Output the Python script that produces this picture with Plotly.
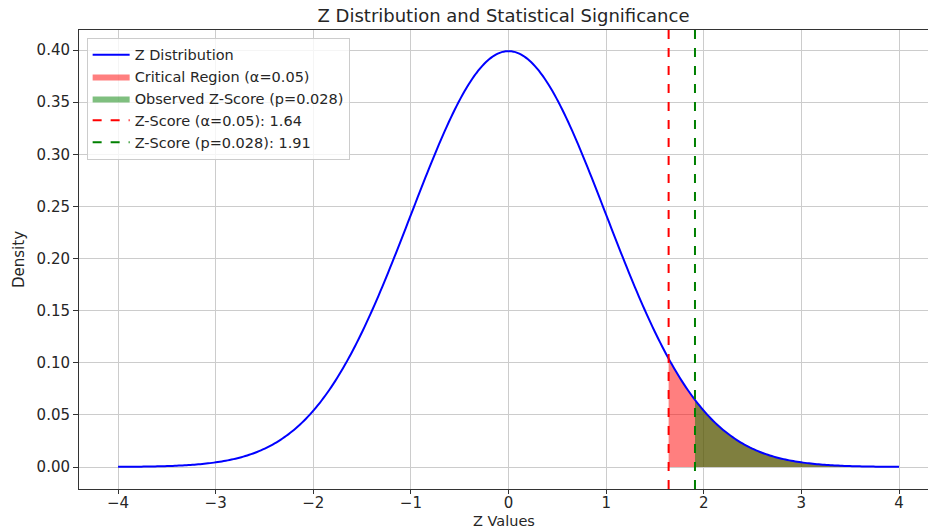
import math
import plotly.graph_objects as go

# Parameters
z_min, z_max = -4.0, 4.0
alpha = 0.05
z_crit = 1.64
p_value = 0.028
z_obs = 1.91
n_points = 400

x_ticks = [-4, -3, -2, -1, 0, 1, 2, 3, 4]
y_ticks = [0.00, 0.05, 0.10, 0.15, 0.20, 0.25, 0.30, 0.35, 0.40]


def pdf(z):
    return math.exp(-0.5 * z * z) / math.sqrt(2 * math.pi)


z_vals = [z_min + (z_max - z_min) * i / (n_points - 1) for i in range(n_points)]
dens = [pdf(z) for z in z_vals]

crit_x = [z_crit] + [z for z in z_vals if z >= z_crit]
crit_y = [pdf(z) for z in crit_x]
obs_x = [z_obs] + [z for z in z_vals if z >= z_obs]
obs_y = [pdf(z) for z in obs_x]

y_lo, y_hi = -0.0211, 0.4192
x_lo, x_hi = -4.4, 4.297

fig = go.Figure()

fig.add_trace(go.Scatter(
    x=crit_x + crit_x[::-1], y=crit_y + [0] * len(crit_x),
    fill="toself", fillcolor="rgba(255,0,0,0.5)", line=dict(width=0),
    mode="lines", name="Critical Region (α=0.05)", legendrank=2,
    hoverinfo="skip"))
fig.add_trace(go.Scatter(
    x=obs_x + obs_x[::-1], y=obs_y + [0] * len(obs_x),
    fill="toself", fillcolor="rgba(0,128,0,0.5)", line=dict(width=0),
    mode="lines", name="Observed Z-Score (p=0.028)", legendrank=3,
    hoverinfo="skip"))
fig.add_trace(go.Scatter(
    x=z_vals, y=dens, mode="lines",
    line=dict(color="blue", width=2, simplify=False),
    name="Z Distribution", legendrank=1))
fig.add_trace(go.Scatter(
    x=[z_crit, z_crit], y=[y_lo, y_hi], mode="lines",
    line=dict(color="red", width=2, dash="dash"),
    name="Z-Score (α=0.05): 1.64", legendrank=4))
fig.add_trace(go.Scatter(
    x=[z_obs, z_obs], y=[y_lo, y_hi], mode="lines",
    line=dict(color="green", width=2, dash="dash"),
    name="Z-Score (p=0.028): 1.91", legendrank=5))

font_family = "DejaVu Sans"
text_color = "#262626"
plot_h = 531 - 30 - 42
fig.update_layout(
    width=928, height=531,
    margin=dict(l=79, r=0, t=30, b=42, autoexpand=False),
    paper_bgcolor="white", plot_bgcolor="white",
    font=dict(family=font_family, size=15, color=text_color),
    title=dict(text="Z Distribution and Statistical Significance",
               x=0.5, xref="paper", xanchor="center",
               y=1 - 16 / 531, yref="container", yanchor="middle",
               font=dict(size=18, color=text_color)),
    showlegend=True,
    legend=dict(x=0.009, y=0.983, xanchor="left", yanchor="top",
                bgcolor="rgba(255,255,255,0.8)", bordercolor="#cccccc",
                borderwidth=1, font=dict(size=14.5, color=text_color),
                tracegroupgap=0, itemwidth=37),
    annotations=[dict(text="Z Values", xref="paper", yref="paper",
                      x=0.5, y=-(531 - 489) / plot_h, xanchor="center",
                      yanchor="bottom", showarrow=False,
                      font=dict(size=14.5, color=text_color))],
)
fig.update_xaxes(
    range=[x_lo, x_hi], tickvals=x_ticks,
    ticktext=[str(t).replace("-", "−") for t in x_ticks],
    showgrid=True, gridcolor="#cccccc", gridwidth=1,
    zeroline=False, showline=True, linecolor="#333333", linewidth=1,
    mirror=True, ticks="outside", ticklen=4, tickcolor="#333333",
    ticklabelstandoff=-4, automargin=False)
fig.update_yaxes(
    range=[y_lo, y_hi], tickvals=y_ticks,
    ticktext=[f"{t:.2f}" for t in y_ticks],
    showgrid=True, gridcolor="#cccccc", gridwidth=1,
    zeroline=False, showline=True, linecolor="#333333", linewidth=1,
    mirror=True, ticks="outside", ticklen=5, tickcolor="#333333",
    automargin=False,
    title=dict(text="Density", font=dict(size=15), standoff=8))

fig.write_html("out.html", config={"displayModeBar": False},
               post_script="document.body.style.margin='0';document.body.style.overflow='hidden';")
